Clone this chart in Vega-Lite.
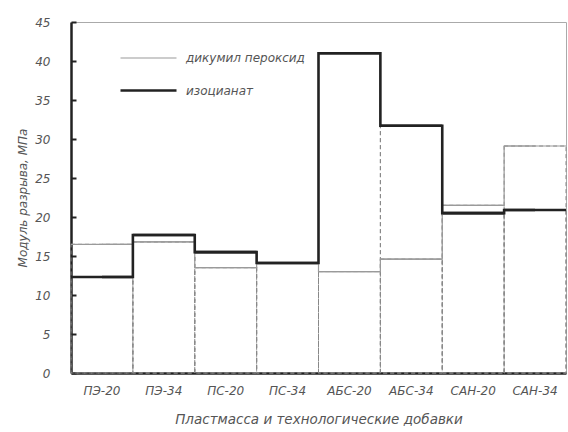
{
  "$schema": "https://vega.github.io/schema/vega-lite/v6.json",
  "autosize": {"type": "none"},
  "padding": {"left": 71, "top": 22, "right": 2, "bottom": 59},
  "width": 495,
  "height": 351,
  "background": "white",
  "config": {
    "view": {"stroke": "#aaaaaa", "strokeWidth": 1},
    "font": "DejaVu Sans",
    "axis": {"labelFontStyle": "italic", "titleFontStyle": "italic", "labelColor": "#555", "titleColor": "#555", "titleFontWeight": "normal", "labelFontSize": 12, "titleFontSize": 12, "domainColor": "#222", "domainWidth": 2.5, "grid": false},
    "legend": {"labelFontStyle": "italic", "labelColor": "#555", "labelFontSize": 12, "padding": 0}
  },
  "data": {"values": [
    {"cat": "ПЭ-20", "series": "дикумил пероксид", "value": 16.5},
    {"cat": "ПЭ-34", "series": "дикумил пероксид", "value": 16.8},
    {"cat": "ПС-20", "series": "дикумил пероксид", "value": 13.5},
    {"cat": "ПС-34", "series": "дикумил пероксид", "value": 14.1},
    {"cat": "АБС-20", "series": "дикумил пероксид", "value": 13.0},
    {"cat": "АБС-34", "series": "дикумил пероксид", "value": 14.6},
    {"cat": "САН-20", "series": "дикумил пероксид", "value": 21.5},
    {"cat": "САН-34", "series": "дикумил пероксид", "value": 29.1},
    {"cat": "ПЭ-20", "series": "изоцианат", "value": 12.3},
    {"cat": "ПЭ-34", "series": "изоцианат", "value": 17.7},
    {"cat": "ПС-20", "series": "изоцианат", "value": 15.5},
    {"cat": "ПС-34", "series": "изоцианат", "value": 14.1},
    {"cat": "АБС-20", "series": "изоцианат", "value": 41.0},
    {"cat": "АБС-34", "series": "изоцианат", "value": 31.7},
    {"cat": "САН-20", "series": "изоцианат", "value": 20.5},
    {"cat": "САН-34", "series": "изоцианат", "value": 20.9}
  ]},
  "encoding": {
    "x": {"field": "cat", "type": "nominal", "sort": null,
      "scale": {"paddingInner": 0, "paddingOuter": 0},
      "axis": {"title": "Пластмасса и технологические добавки", "titleFontSize": 13.5, "labelAngle": 0, "ticks": false, "labelPadding": 12, "titlePadding": 16}},
    "y": {"field": "value", "type": "quantitative", "stack": null,
      "scale": {"domain": [0, 45], "nice": false},
      "axis": {"title": "Модуль разрыва, МПа", "values": [0, 5, 10, 15, 20, 25, 30, 35, 40, 45], "tickSize": -5, "tickColor": "#222", "tickWidth": 2, "labelPadding": 26, "titlePadding": 5}}
  },
  "layer": [
    {
      "mark": {"type": "bar", "fill": "white", "fillOpacity": 0, "stroke": "#888", "strokeDash": [4, 3], "strokeWidth": 1}
    },
    {
      "mark": {"type": "bar", "fillOpacity": 0, "fill": "white"},
      "encoding": {
        "y2": {"field": "value"},
        "stroke": {"field": "series", "type": "nominal", "scale": {"domain": ["дикумил пероксид", "изоцианат"], "range": ["#9a9a9a", "#222222"]}},
        "strokeWidth": {"field": "series", "type": "nominal", "scale": {"domain": ["дикумил пероксид", "изоцианат"], "range": [1.2, 2.6]}}
      }
    },
    {
      "mark": {"type": "line", "interpolate": "step"},
      "encoding": {
        "stroke": {"field": "series", "type": "nominal", "scale": {"domain": ["дикумил пероксид", "изоцианат"], "range": ["#9a9a9a", "#222222"]},
          "legend": {"title": null, "orient": "none", "legendX": 90, "legendY": 28, "symbolType": "M-7,0H1", "symbolSize": 196, "rowPadding": 18, "labelOffset": 8}},
        "strokeWidth": {"field": "series", "type": "nominal", "scale": {"domain": ["дикумил пероксид", "изоцианат"], "range": [1.2, 2.6]},
          "legend": {"title": null, "orient": "none", "legendX": 90, "legendY": 28, "symbolType": "M-7,0H1", "symbolSize": 196, "rowPadding": 18, "labelOffset": 8}}
      }
    }
  ]
}
